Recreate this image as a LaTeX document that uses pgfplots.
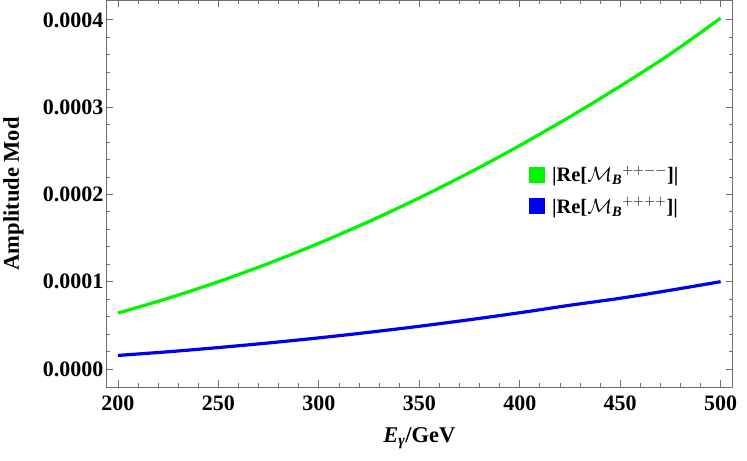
\documentclass[border=0pt]{standalone}
\usepackage{amsmath}
\usepackage{pgfplots}
\pgfplotsset{compat=1.18}
\usepackage{fontspec}
\setmainfont{Liberation Serif}
\definecolor{frame}{RGB}{110,110,110}
\definecolor{mygreen}{RGB}{0,245,0}
\definecolor{myblue}{RGB}{0,0,240}
\begin{document}
\begin{tikzpicture}
\begin{axis}[
  name=ax,
  scale only axis,
  width=627pt, height=387pt,
  xmin=194, xmax=506,
  ymin=-0.000021, ymax=0.0004223,
  xtick={200,250,...,500},
  ytick={0,0.0001,0.0002,0.0003,0.0004},
  yticklabels={0.0000,0.0001,0.0002,0.0003,0.0004},
  scaled y ticks=false,
  minor x tick num=4,
  minor y tick num=4,
  tick align=inside,
  major tick length=7pt,
  minor tick length=4pt,
  axis line style={frame, line width=0.8pt},
  every tick/.style={frame, line width=0.8pt},
  tick label style={font=\fontsize{22}{25}\selectfont\bfseries},
  /pgf/number format/assume math mode=true,
  xticklabel style={yshift=-5pt},
  yticklabel style={xshift=1pt},
  label style={font=\fontsize{22.5}{26}\selectfont\bfseries},
  xlabel={\textit{E}\textsubscript{\textit{γ}}/GeV},
  ylabel={Amplitude Mod},
  xlabel style={at={(axis description cs:0.5,-0.132)}, anchor=center},
  ylabel style={at={(axis description cs:-0.1474,0.5)}, anchor=center, rotate=0},
  legend style={draw=none, fill=none, at={(0.67,0.583)}, anchor=north west,
    font=\fontsize{20.5}{24}\selectfont\bfseries, row sep=10pt,
    /tikz/every odd column/.style={column sep=5pt}},
  legend cell align=left,
  legend image code/.code={\fill[#1,draw=none] (0pt,-8pt) rectangle (16pt,8pt);},
]
\addplot[mygreen, line width=3.2pt, smooth] coordinates {
(200,6.40e-5) (225,8.10e-5) (250,1.000e-4) (275,1.210e-4) (300,1.440e-4)
(325,1.690e-4) (350,1.960e-4) (375,2.250e-4) (400,2.560e-4) (425,2.890e-4)
(450,3.240e-4) (475,3.610e-4) (500,4.020e-4)};
\addlegendentry{|Re[$\mathcal{M}_{\textit{B}}{}^{++--}$]|}
\addplot[myblue, line width=3.2pt, smooth] coordinates {
(200,1.55e-5) (225,1.97e-5) (250,2.45e-5) (275,2.98e-5) (300,3.56e-5)
(325,4.20e-5) (350,4.89e-5) (375,5.64e-5) (400,6.44e-5) (425,7.30e-5)
(450,8.10e-5) (475,9.02e-5) (500,1.000e-4)};
\addlegendentry{|Re[$\mathcal{M}_{\textit{B}}{}^{++++}$]|}
\end{axis}
\path (ax.south west) ++(-105.7pt,-73pt);
\path (ax.north east) ++(14.3pt,0pt);
\end{tikzpicture}
\end{document}
